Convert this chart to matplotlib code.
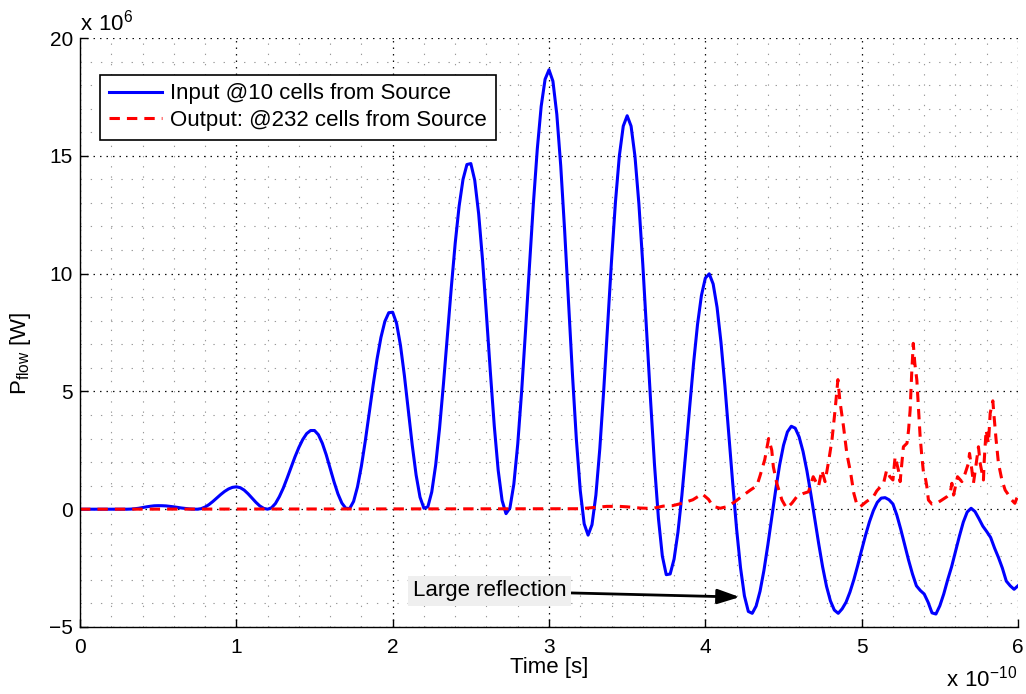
import numpy as np
import matplotlib
matplotlib.use("Agg")
import matplotlib.pyplot as plt
from matplotlib.ticker import FixedLocator, FuncFormatter

plt.rcParams['font.family'] = ['Liberation Sans', 'DejaVu Sans']
plt.rcParams['axes.unicode_minus'] = True
plt.rcParams['mathtext.fontset'] = 'custom'
plt.rcParams['mathtext.rm'] = 'Liberation Sans'

# ---- data -------------------------------------------------------------
# Input probe (10 cells from source): power flow [x1e6 W], sampled every 0.025e-10 s
t_input_step = 0.025  # [x1e-10 s]
p_input = [
    0, 0, 0, 0, 0, 0, 0, 0, 0, 0,
    0, 0, 0, 0.005, 0.02, 0.04, 0.07, 0.10, 0.125, 0.145,
    0.15, 0.148, 0.14, 0.12, 0.10, 0.075, 0.05, 0.03, 0.012, 0.003,
    0.0, 0.023, 0.091, 0.196, 0.328, 0.475, 0.622, 0.754, 0.859, 0.927,
    0.95, 0.914, 0.811, 0.656, 0.475, 0.294, 0.139, 0.036, 0.0, 0.06,
    0.24, 0.53, 0.89, 1.32, 1.77, 2.22, 2.62, 2.96, 3.21, 3.34,
    3.34, 3.16, 2.80, 2.31, 1.74, 1.16, 0.65, 0.26, 0.04, 0.03,
    0.33, 0.95, 1.83, 2.90, 4.08, 5.27, 6.37, 7.29, 7.97, 8.34,
    8.36, 7.89, 6.95, 5.67, 4.20, 2.73, 1.45, 0.51, 0.04, 0.10,
    0.73, 1.87, 3.44, 5.33, 7.37, 9.40, 11.29, 12.86, 14.00, 14.63,
    14.67, 13.96, 12.54, 10.57, 8.24, 5.81, 3.53, 1.65, 0.37, -0.19,
    0.05, 1.06, 2.76, 5.00, 7.59, 10.32, 12.96, 15.28, 17.10, 18.25,
    18.65, 18.17, 16.76, 14.58, 11.83, 8.78, 5.72, 2.97, 0.79, -0.62,
    -1.10, -0.66, 0.60, 2.57, 5.05, 7.80, 10.55, 13.03, 15.00, 16.26,
    16.70, 16.26, 14.97, 12.96, 10.39, 7.52, 4.59, 1.87, -0.39, -1.99,
    -2.78, -2.75, -2.12, -0.97, 0.59, 2.42, 4.35, 6.21, 7.84, 9.07,
    9.81, 9.99, 9.56, 8.57, 7.09, 5.25, 3.19, 1.11, -0.84, -2.48,
    -3.68, -4.34, -4.42, -4.11, -3.48, -2.59, -1.51, -0.34, 0.82, 1.87,
    2.71, 3.28, 3.52, 3.44, 3.07, 2.45, 1.62, 0.64, -0.41, -1.46,
    -2.44, -3.27, -3.89, -4.28, -4.42, -4.23, -3.95, -3.52, -2.99, -2.38,
    -1.73, -1.10, -0.53, -0.06, 0.29, 0.47, 0.49, 0.40, 0.22, -0.25,
    -0.85, -1.50, -2.16, -2.75, -3.25, -3.45, -3.60, -3.95, -4.40, -4.45,
    -4.10, -3.60, -3.00, -2.45, -1.80, -1.15, -0.55, -0.12, 0.04, -0.10,
    -0.40, -0.72, -0.95, -1.20, -1.65, -2.05, -2.50, -3.05, -3.25, -3.40,
    -3.25,
]

# Output probe (232 cells from source): time [x1e-10 s] and power flow [x1e6 W]
t_output = [
    0.0, 3.2, 3.3, 3.37, 3.45, 3.5, 3.58, 3.66, 3.73, 3.79,
    3.85, 3.92, 3.98, 4.02, 4.05, 4.095, 4.14, 4.19, 4.23, 4.29,
    4.33, 4.35, 4.38, 4.405, 4.425, 4.435, 4.457, 4.49, 4.52, 4.553,
    4.585, 4.628, 4.66, 4.67, 4.69, 4.724, 4.745, 4.766, 4.79, 4.81,
    4.83, 4.848, 4.86, 4.884, 4.905, 4.93, 4.95, 4.97, 4.99, 5.03,
    5.075, 5.097, 5.14, 5.16, 5.18, 5.2, 5.214, 5.235, 5.246, 5.257,
    5.267, 5.29, 5.30, 5.31, 5.32, 5.326, 5.33, 5.34, 5.353, 5.364,
    5.374, 5.385, 5.396, 5.406, 5.417, 5.427, 5.449, 5.48, 5.513, 5.545,
    5.566, 5.577, 5.588, 5.613, 5.641, 5.662, 5.683, 5.69, 5.705, 5.715,
    5.733, 5.747, 5.758, 5.779, 5.783, 5.796, 5.811, 5.822, 5.839, 5.847,
    5.86, 5.875, 5.897, 5.918, 5.94, 5.96, 5.98, 5.992, 6.0,
]
p_output = [
    0.0, 0.02, 0.08, 0.12, 0.12, 0.10, 0.05, 0.03, 0.13, 0.15,
    0.25, 0.40, 0.65, 0.42, 0.12, 0.04, 0.11, 0.32, 0.53, 0.82,
    1.00, 1.42, 2.10, 3.00, 2.50, 1.80, 1.10, 0.39, 0.04, 0.25,
    0.53, 0.67, 0.74, 0.96, 1.38, 0.96, 1.66, 1.17, 2.09, 2.94,
    4.21, 5.50, 4.64, 3.50, 2.37, 1.52, 0.67, 0.18, 0.10, 0.32,
    0.53, 0.78, 1.10, 1.66, 1.38, 1.24, 2.23, 1.66, 1.17, 1.95,
    2.65, 2.80, 3.36, 4.20, 5.77, 6.50, 7.04, 6.19, 5.48, 4.21,
    3.08, 2.23, 1.52, 1.38, 0.96, 0.39, 0.22, 0.25, 0.39, 0.53,
    0.67, 1.10, 0.60, 1.38, 1.17, 1.52, 1.95, 2.37, 1.66, 1.10,
    1.95, 2.65, 1.95, 1.24, 1.95, 3.36, 2.80, 4.07, 4.60, 3.93,
    2.94, 1.95, 1.24, 0.81, 0.60, 0.39, 0.25, 0.46, 0.55,
]

x_ticks = [0, 1, 2, 3, 4, 5, 6]
y_ticks = [-5, 0, 5, 10, 15, 20]

legend_labels = ['Input @10 cells from Source', 'Output: @232 cells from Source']
annotation_text = 'Large reflection'
annotation_xy = (4.22, -3.73)       # arrow tip [x1e-10 s, x1e6 W]
annotation_text_xy = (2.62, -3.47)  # label centre

T = 1e-10
P = 1e6
FS_TICK = 15
FS_TEXT = 16

# ---- figure -----------------------------------------------------------
fig = plt.figure(figsize=(10.26, 6.94), dpi=100)
ax = fig.add_axes([80 / 1026, 1 - 627 / 694, 938 / 1026, 589 / 694])

t_input = np.arange(len(p_input)) * t_input_step
ax.plot(t_input * T, np.array(p_input) * P, color=(0, 0, 1), lw=2.2,
        label=legend_labels[0], solid_joinstyle='round')
ax.plot(np.array(t_output) * T, np.array(p_output) * P, color=(1, 0, 0), lw=2.2,
        linestyle=(0, (3.4, 2.3)), label=legend_labels[1])

ax.set_xlim(0, 6 * T)
ax.set_ylim(-5 * P, 20 * P)

ax.xaxis.set_major_locator(FixedLocator([v * T for v in x_ticks]))
ax.yaxis.set_major_locator(FixedLocator([v * P for v in y_ticks]))
ax.xaxis.set_minor_locator(FixedLocator(np.arange(0, 6.001, 0.2) * T))
ax.yaxis.set_minor_locator(FixedLocator(np.arange(-5, 20.001, 1.0) * P))
ax.xaxis.set_major_formatter(FuncFormatter(lambda v, _: f'{round(v / T):d}'))
ax.yaxis.set_major_formatter(
    FuncFormatter(lambda v, _: f'{round(v / P):d}'.replace('-', '\u2212')))

ax.grid(which='major', color='#111111', lw=0.9, linestyle=(0, (1.2, 4.0)))
ax.grid(which='minor', color='#999999', lw=0.8, linestyle=(0, (1.2, 8)))
ax.set_axisbelow(True)

for side in ('top', 'right'):
    ax.spines[side].set_visible(False)
for side in ('left', 'bottom'):
    ax.spines[side].set_linewidth(1.0)
    ax.spines[side].set_color('black')

ax.tick_params(which='major', direction='in', length=6, width=1,
               labelsize=FS_TICK, colors='black')
ax.tick_params(axis='x', which='major', pad=8)
ax.tick_params(axis='y', which='major', pad=5)
ax.tick_params(which='minor', length=0)

ax.set_xlabel('Time [s]', fontsize=FS_TEXT, labelpad=0)
ax.set_ylabel(r'$\mathregular{P_{flow}}$ [W]', fontsize=FS_TEXT)
ax.yaxis.set_label_coords(-0.05, 0.465)

fig.text(80 / 1026, 1 - 31 / 694, r'$\mathregular{x\ 10^{6}}$', fontsize=FS_TEXT,
         ha='left', va='baseline')
fig.text(1017 / 1026, 1 - 686 / 694, r'$\mathregular{x\ 10^{-10}}$', fontsize=FS_TEXT,
         ha='right', va='baseline')

leg = ax.legend(loc='upper left', bbox_to_anchor=(0.0213, 0.938), borderaxespad=0,
                fontsize=FS_TEXT, frameon=True, fancybox=False, handlelength=2.4,
                handletextpad=0.35, labelspacing=0.25, borderpad=0.4)
leg.get_frame().set_edgecolor('black')
leg.get_frame().set_linewidth(1.2)
leg.get_frame().set_alpha(1)

ax.annotate(annotation_text,
            xy=(annotation_xy[0] * T, annotation_xy[1] * P),
            xytext=(annotation_text_xy[0] * T, annotation_text_xy[1] * P),
            ha='center', va='center', fontsize=FS_TEXT,
            bbox=dict(boxstyle='square,pad=0.22', fc='#efefef', ec='none'),
            arrowprops=dict(arrowstyle='-|>,head_length=0.9,head_width=0.3',
                            color='black', lw=2.0, shrinkA=0, shrinkB=0,
                            mutation_scale=15))

fig.savefig('out.png', dpi=100)
